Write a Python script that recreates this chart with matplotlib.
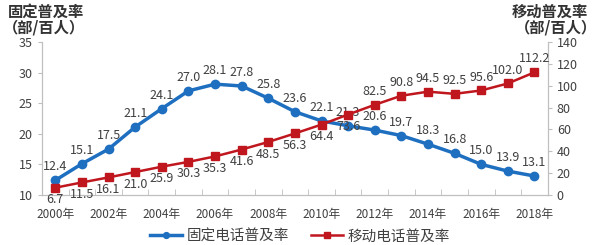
import numpy as np
import matplotlib
matplotlib.use('Agg')
from matplotlib import pyplot as plt

plt.rcParams['font.family'] = ['Noto Sans CJK SC', 'DejaVu Sans']

years = list(range(2000, 2019))
fixed = [12.4, 15.1, 17.5, 21.1, 24.1, 27.0, 28.1, 27.8, 25.8, 23.6,
         22.1, 21.3, 20.6, 19.7, 18.3, 16.8, 15.0, 13.9, 13.1]
mobile = [6.7, 11.5, 16.1, 21.0, 25.9, 30.3, 35.3, 41.6, 48.5, 56.3,
          64.4, 73.6, 82.5, 90.8, 94.5, 92.5, 95.6, 102.0, 112.2]
tick_years = years[::2]
tick_labels = [str(y) + '年' for y in tick_years]

blue = '#1f6fc0'
red = '#c0161e'
txt = '#404040'
axc = '#bfbfbf'

fig = plt.figure(figsize=(6, 2.45), dpi=100)
ax = fig.add_axes([0.07, 0.204, 0.843, 0.625])
ax2 = ax.twinx()

l1, = ax.plot(years, fixed, color=blue, lw=2.5, marker='o', ms=6, label='固定电话普及率', zorder=3)
l2, = ax2.plot(years, mobile, color=red, lw=1.8, marker='s', ms=6, label='移动电话普及率', zorder=2)

for x, v in zip(years, fixed):
    ax.annotate('%.1f' % v, (x, v), xytext=(0, 5), textcoords='offset points',
                ha='center', va='bottom', fontsize=9, color=txt)
for x, v in zip(years, mobile):
    if x < 2012:
        ax2.annotate('%.1f' % v, (x, v), xytext=(0, -4), textcoords='offset points',
                     ha='center', va='top', fontsize=9, color=txt)
    else:
        ax2.annotate('%.1f' % v, (x, v), xytext=(0, 5), textcoords='offset points',
                     ha='center', va='bottom', fontsize=9, color=txt)

ax.set_xlim(1999.5, 2018.5)
ax.set_ylim(10, 35)
ax2.set_ylim(0, 140)
ax.set_yticks(range(10, 36, 5))
ax2.set_yticks(range(0, 141, 20))
ax.set_xticks(tick_years)
ax.set_xticklabels(tick_labels)
ax.set_xticks(np.arange(1999.5, 2018.6, 1), minor=True)
ax.tick_params(axis='x', which='major', length=0, labelsize=8.5, colors=txt, pad=9)
ax.tick_params(axis='x', which='minor', length=4, direction='in', color=axc)
ax.tick_params(axis='y', length=3, color=axc, labelsize=9, labelcolor=txt)
ax2.tick_params(axis='y', length=3, color=axc, labelsize=9, labelcolor=txt)

for a in (ax, ax2):
    a.spines['top'].set_visible(False)
    for s in ('left', 'right', 'bottom'):
        a.spines[s].set_color(axc)
ax.patch.set_visible(False)

fig.text(0.013, 0.95, '固定普及率', fontsize=11, fontweight='bold', color='#333333', va='center')
fig.text(0.005, 0.888, '（部/百人）', fontsize=11, fontweight='bold', color='#333333', va='center')
fig.text(0.98, 0.95, '移动普及率', fontsize=11, fontweight='bold', color='#333333', va='center', ha='right')
fig.text(0.995, 0.888, '（部/百人）', fontsize=11, fontweight='bold', color='#333333', va='center', ha='right')

fig.legend(handles=[l1, l2], loc='center', bbox_to_anchor=(0.5, 0.035), ncol=2,
           frameon=False, fontsize=10.5, handlelength=2.2, columnspacing=1.5,
           handletextpad=0.3, labelcolor=txt, markerscale=0.7)

fig.savefig('out.png', dpi=100)
